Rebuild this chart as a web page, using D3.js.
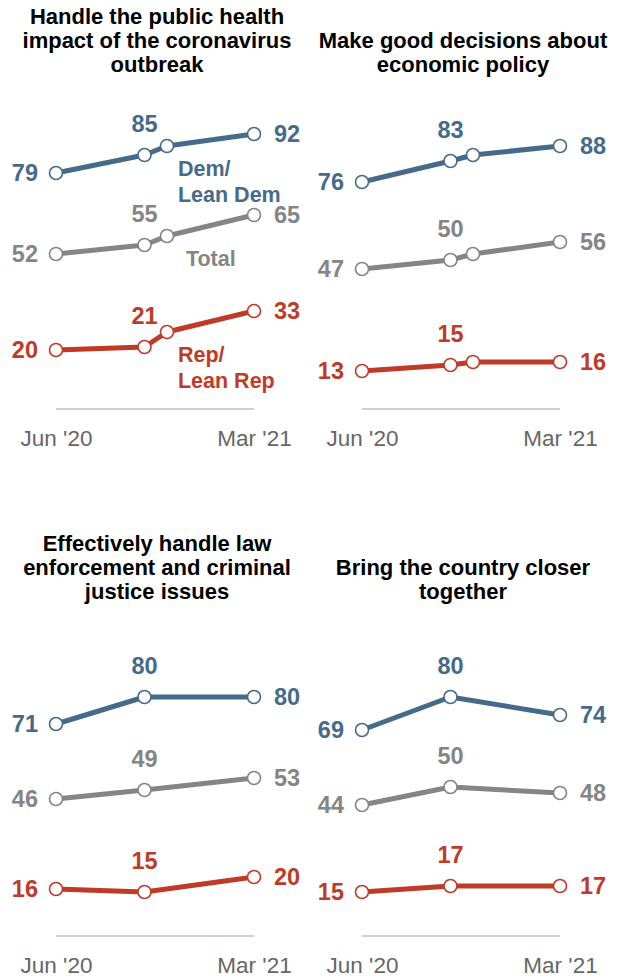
<!DOCTYPE html>
<html>
<head>
<meta charset="utf-8">
<script src="https://cdn.jsdelivr.net/npm/d3@7"></script>
<style>
  html, body { margin: 0; padding: 0; background: #fff; }
  svg { display: block; font-family: "Liberation Sans", Arial, sans-serif; }
</style>
</head>
<body>
<svg id="chart" width="623" height="979"></svg>
<script>
// ---- Data ----
const titles = [
  ["Handle the public health", "impact of the coronavirus", "outbreak"],
  ["Make good decisions about", "economic policy"],
  ["Effectively handle law", "enforcement and criminal", "justice issues"],
  ["Bring the country closer", "together"]
];
const surveyDates4 = ["2020-06-01", "2020-10-01", "2020-11-01", "2021-03-01"];
const surveyDates3 = ["2020-06-01", "2020-10-01", "2021-03-01"];
const tickLabels = ["Jun '20", "Mar '21"];
const seriesNames = ["Dem/|Lean Dem", "Total", "Rep/|Lean Rep"];

const covidDem = [79, 85, 88, 92];
const covidTotal = [52, 55, 58, 65];
const covidRep = [20, 21, 26, 33];

const econDem = [76, 83, 85, 88];
const econTotal = [47, 50, 52, 56];
const econRep = [13, 15, 16, 16];

const lawDem = [71, 80, 80];
const lawTotal = [46, 49, 53];
const lawRep = [16, 15, 20];

const unityDem = [69, 80, 74];
const unityTotal = [44, 50, 48];
const unityRep = [15, 17, 17];

// ---- Layout / style ----
const colors = ["#466b8a", "#858585", "#bf3b28"];
const parse = d3.timeParse("%Y-%m-%d");
const panels = [
  { title: titles[0], dates: surveyDates4, series: [covidDem, covidTotal, covidRep], col: 0, row: 0, names: true },
  { title: titles[1], dates: surveyDates4, series: [econDem, econTotal, econRep], col: 1, row: 0 },
  { title: titles[2], dates: surveyDates3, series: [lawDem, lawTotal, lawRep], col: 0, row: 1 },
  { title: titles[3], dates: surveyDates3, series: [unityDem, unityTotal, unityRep], col: 1, row: 1 }
];
const colOffset = 306, rowOffset = 527;

const svg = d3.select("#chart");

panels.forEach(p => {
  const ox = p.col * colOffset, oy = p.row * rowOffset;
  const g = svg.append("g").attr("transform", `translate(${ox},${oy})`);
  const x = d3.scaleTime()
    .domain([parse(surveyDates4[0]), parse(surveyDates4[3])])
    .range([56, 254]);
  const y = d3.scaleLinear().domain([0, 100]).range([410, 110]);

  // title (bottom-aligned)
  const lines = p.title;
  const lastY = 72;
  lines.forEach((t, i) => {
    g.append("text")
      .attr("x", 157)
      .attr("y", lastY - (lines.length - 1 - i) * 24)
      .attr("text-anchor", "middle")
      .attr("font-size", 22)
      .attr("font-weight", "bold")
      .attr("fill", "#000")
      .text(t);
  });

  // baseline axis
  g.append("line")
    .attr("x1", x.range()[0]).attr("x2", x.range()[1])
    .attr("y1", y(0) - 1).attr("y2", y(0) - 1)
    .attr("stroke", "#d0d0d0").attr("stroke-width", 2);

  // x axis tick labels
  const axis = d3.axisBottom(x)
    .tickValues([parse(surveyDates4[0]), parse(surveyDates4[3])])
    .tickFormat((d, i) => tickLabels[i])
    .tickSize(0).tickPadding(0);
  const ag = g.append("g").attr("transform", `translate(0,${y(0) + 20})`).call(axis);
  ag.select(".domain").remove();
  ag.selectAll("text")
    .attr("font-size", 22.5)
    .attr("font-family", "'Liberation Sans', Arial, sans-serif")
    .attr("fill", "#666");

  const line = d3.line().x((d, i) => x(parse(p.dates[i]))).y(d => y(d));

  p.series.forEach((vals, si) => {
    const c = colors[si];
    g.append("path")
      .datum(vals)
      .attr("d", line)
      .attr("fill", "none")
      .attr("stroke", c)
      .attr("stroke-width", 5)
      .attr("stroke-linejoin", "round");

    g.selectAll(null).data(vals).enter().append("circle")
      .attr("cx", (d, i) => x(parse(p.dates[i])))
      .attr("cy", d => y(d))
      .attr("r", 6.5)
      .attr("fill", "#fff")
      .attr("stroke", c)
      .attr("stroke-width", 1.6);

    // value labels: first, second, last
    const n = vals.length;
    const lab = [
      { i: 0, dx: -18, dy: 0, anchor: "end" },
      { i: 1, dx: 0, dy: -31, anchor: "middle" },
      { i: n - 1, dx: 20, dy: 0, anchor: "start" }
    ];
    lab.forEach(l => {
      g.append("text")
        .attr("x", x(parse(p.dates[l.i])) + l.dx)
        .attr("y", y(vals[l.i]) + l.dy)
        .attr("dy", "0.36em")
        .attr("text-anchor", l.anchor)
        .attr("font-size", 23.5)
        .attr("font-weight", "bold")
        .attr("fill", c)
        .text(vals[l.i]);
    });

    // series names (first panel only)
    if (p.names) {
      const nameLines = seriesNames[si].split("|");
      const bx = x(parse(p.dates[2])) + (si === 1 ? 19 : 11);
      const by = y(vals[2]) + 22;
      nameLines.forEach((t, k) => {
        g.append("text")
          .attr("x", bx)
          .attr("y", by + k * 26)
          .attr("dy", "0.36em")
          .attr("font-size", 21.5)
          .attr("font-weight", "bold")
          .attr("fill", c)
          .text(t);
      });
    }
  });
});
</script>
</body>
</html>
